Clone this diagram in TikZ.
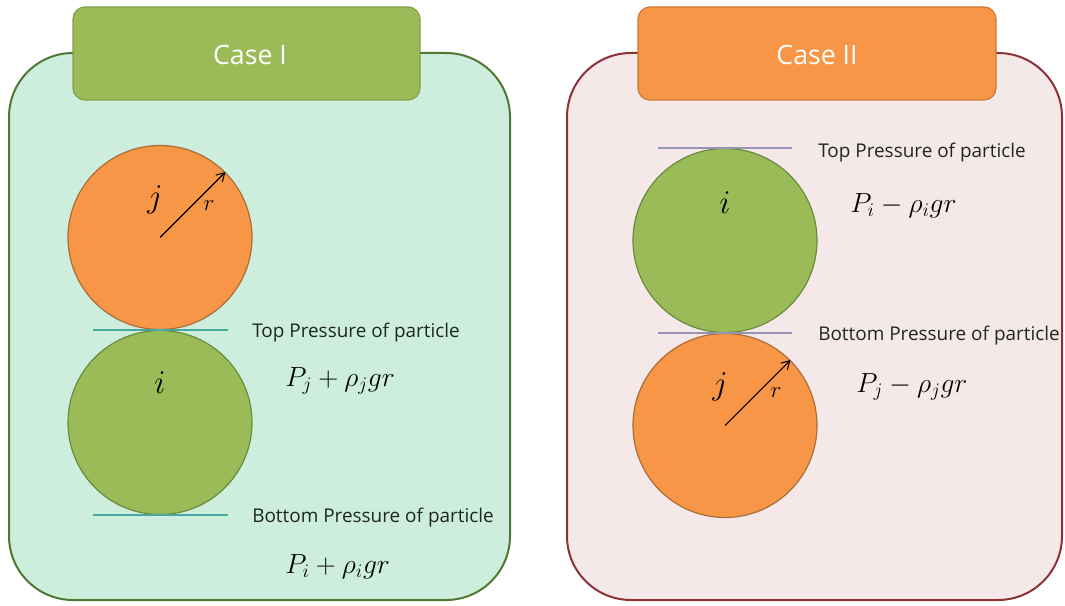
\documentclass[tikz,border=0pt]{standalone}
\usepackage{fontspec}
\setsansfont{Open Sans}
\usetikzlibrary{arrows.meta}
\definecolor{mintfill}{RGB}{205,238,220}
\definecolor{mintedge}{RGB}{80,120,50}
\definecolor{pinkfill}{RGB}{245,232,232}
\definecolor{pinkedge}{RGB}{140,50,55}
\definecolor{tabgreen}{RGB}{155,187,89}
\definecolor{tabgreenedge}{RGB}{130,160,75}
\definecolor{taborange}{RGB}{247,150,70}
\definecolor{taborangeedge}{RGB}{200,120,55}
\definecolor{ballorange}{RGB}{246,150,70}
\definecolor{ballorangeedge}{RGB}{170,110,55}
\definecolor{ballgreen}{RGB}{155,187,89}
\definecolor{ballgreenedge}{RGB}{105,140,60}
\definecolor{tealline}{RGB}{70,170,160}
\definecolor{greyline}{RGB}{150,148,180}
\definecolor{labeltext}{RGB}{30,40,30}
\tikzset{
  panel/.style={line width=1.5pt, rounded corners=48pt},
  tabbox/.style={line width=0.9pt, rounded corners=9pt},
  tabtext/.style={font=\sffamily\fontsize{20}{24}\selectfont, text=white},
  ball/.style={circle, minimum size=138pt, inner sep=0pt, line width=0.9pt},
  ballo/.style={ball, fill=ballorange, draw=ballorangeedge},
  ballg/.style={ball, fill=ballgreen, draw=ballgreenedge},
  lbl/.style={anchor=west, font=\sffamily\fontsize{14.2}{17}\selectfont, text=labeltext, inner sep=0pt},
  eq/.style={anchor=west, font=\fontsize{22}{26}\selectfont, inner sep=0pt},
  letter/.style={font=\fontsize{36}{40}\selectfont, inner sep=0pt},
  rlet/.style={font=\fontsize{19}{22}\selectfont, inner sep=0pt},
  radarrow/.style={-{Straight Barb[length=6pt,width=7pt]}, line width=0.8pt},
  tangent/.style={line width=0.9pt}
}
\begin{document}
\begin{tikzpicture}[x=0.75pt,y=-0.75pt]
\useasboundingbox (0,0) rectangle (1065,606);
% panels
\draw[panel, fill=mintfill, draw=mintedge] (9,53) rectangle (510,600);
\draw[panel, fill=pinkfill, draw=pinkedge] (567,53) rectangle (1062,600);
% tabs
\draw[tabbox, fill=tabgreen, draw=tabgreenedge] (73,7) rectangle (420,100);
\node[tabtext] (t1) at (250,55) {Case I};
\draw[tabbox, fill=taborange, draw=taborangeedge] (638,7) rectangle (996,100);
\node[tabtext] (t2) at (817,55) {Case II};
% left circles
\node[ballo] (lj) at (160,237.5) {};
\node[ballg] (li) at (160,422.5) {};
\coordinate (l1a) at (93,330); \coordinate (l1b) at (228,330);
\coordinate (l2a) at (93,515); \coordinate (l2b) at (228,515);
\draw[tangent, tealline] (l1a) -- (l1b);
\draw[tangent, tealline] (l2a) -- (l2b);
\draw[radarrow] (lj.center) -- (lj.45);
\node[letter] (ljl) at (155,200) {$j$};
\node[rlet] (lr) at (209,206) {$r$};
\node[letter] (lil) at (160,383) {$i$};
\node[lbl] (ltop) at (252,333) {Top Pressure of particle};
\node[eq] (leq1) at (285,381) {$P_j + \rho_j gr$};
\node[lbl] (lbot) at (252,518) {Bottom Pressure of particle};
\node[eq] (leq2) at (285,567) {$P_i + \rho_i gr$};
% right circles
\node[ballg] (ri) at (725,240.5) {};
\node[ballo] (rj) at (725,425.5) {};
\coordinate (r1a) at (658,148); \coordinate (r1b) at (792,148);
\coordinate (r2a) at (658,333); \coordinate (r2b) at (792,333);
\draw[tangent, greyline] (r1a) -- (r1b);
\draw[tangent, greyline] (r2a) -- (r2b);
\draw[radarrow] (rj.center) -- (rj.45);
\node[letter] (rjl) at (720,387) {$j$};
\node[rlet] (rr) at (776,393) {$r$};
\node[letter] (ril) at (725,203) {$i$};
\node[lbl] (rtop) at (818,153) {Top Pressure of particle};
\node[eq] (req1) at (850,206) {$P_i - \rho_i gr$};
\node[lbl] (rbot) at (818,336) {Bottom Pressure of particle};
\node[eq] (req2) at (856,387) {$P_j - \rho_j gr$};
\end{tikzpicture}
\end{document}
